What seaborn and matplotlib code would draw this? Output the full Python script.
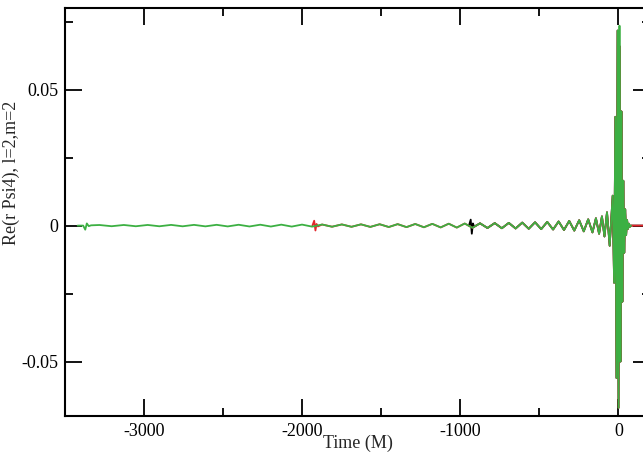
import numpy as np
import pandas as pd
import matplotlib
matplotlib.use("Agg")
import matplotlib.pyplot as plt
from matplotlib.ticker import MultipleLocator, FixedLocator, FuncFormatter
import seaborn as sns

# ---- data (extrema of the common waveform) ----
wave_t = [-3282, -3205, -3128, -3052, -2977, -2903, -2829, -2756, -2684, -2612,
          -2541, -2471, -2402, -2333, -2265, -2198, -2132, -2066, -2001, -1937,
          -1874, -1811, -1749, -1688, -1628, -1569, -1510, -1452, -1396, -1340,
          -1285, -1230, -1177, -1124, -1073, -1022, -972, -923, -875, -828,
          -782, -737, -693, -650, -608, -567, -527, -488, -450, -413,
          -378, -344, -311, -279, -248, -219, -191, -164, -142, -122,
          -104, -88, -72, -55, -36, -27, -19, -12, -5, 1,
          7, 13, 19, 25, 31, 37, 43, 49, 55, 61, 67, 73, 80]
wave_v = [0.00022, -0.00023, 0.00023, -0.00024, 0.00024, -0.00025, 0.00026, -0.00026, 0.00027, -0.00028,
          0.00029, -0.0003, 0.00031, -0.00032, 0.00033, -0.00034, 0.00035, -0.00036, 0.00037, -0.00038,
          0.0004, -0.00041, 0.00043, -0.00044, 0.00046, -0.00048, 0.0005, -0.00052, 0.00054, -0.00056,
          0.00059, -0.00061, 0.00064, -0.00067, 0.0007, -0.00073, 0.00077, -0.0008, 0.00084, -0.00088,
          0.00092, -0.00097, 0.0010, -0.00106, 0.00111, -0.00117, 0.00123, -0.0013, 0.00137, -0.00145,
          0.00153, -0.00162, 0.00172, -0.00184, 0.00197, -0.00212, 0.0023, -0.0025, 0.0027, -0.0030,
          0.0034, -0.0040, 0.0049, -0.0074, 0.011, -0.021, 0.040, -0.056, 0.0717, -0.067,
          0.066, -0.050, 0.042, -0.028, 0.0165, -0.010, 0.006, -0.0035, 0.0021, -0.0012, 0.0007, -0.0004, 0.0]

# junk radiation at the start of each run
green_junk_t = [-3420, -3385, -3372, -3362, -3350, -3335]
green_junk_v = [0.0, 0.0, -0.0015, 0.0008, -0.0002, 0.0001]
red_junk_t = [-1935, -1924, -1916, -1909, -1900]
red_junk_v = [0.0, 0.0018, -0.0018, 0.0006, -0.0003]
black_junk_t = [-945, -934, -927, -920, -912]
black_junk_v = [0.0, 0.0022, -0.0030, 0.0008, -0.0004]

green_peak_t = 7
green_peak_v = 0.0735
tail_t = [200]
tail_v = [0.0]

series_names = ["black", "red", "green"]
series_colors = ["#000000", "#e3262b", "#3cb043"]

# ---- build tables ----
wt = np.array(wave_t, dtype=float)
wv = np.array(wave_v, dtype=float)

def build(name, jt, jv, with_tail):
    start = jt[-1]
    m = wt > start
    t = list(jt) + list(wt[m])
    v = list(jv) + list(wv[m])
    if name == "green":
        v = [green_peak_v if tt == green_peak_t else vv for tt, vv in zip(t, v)]
    if with_tail:
        t += tail_t
        v += tail_v
    return pd.DataFrame({"t": t, "v": v, "run": name})

df = pd.concat([
    build("black", black_junk_t, black_junk_v, True),
    build("red", red_junk_t, red_junk_v, True),
    build("green", green_junk_t, green_junk_v, False),
], ignore_index=True)

# ---- style ----
sns.set_style("ticks")
plt.rcParams["font.family"] = ["Liberation Serif", "DejaVu Serif"]
plt.rcParams["axes.unicode_minus"] = False
FS = 13

fig = plt.figure(figsize=(6.43, 4.53), dpi=100)
ax = fig.add_axes([65 / 643, 1 - 416 / 453, (650 - 65) / 643, (416 - 8) / 453])

sns.lineplot(data=df, x="t", y="v", hue="run", hue_order=series_names,
             palette=dict(zip(series_names, series_colors)), sort=False,
             estimator=None, units="run", linewidth=1.3, legend=False, ax=ax)

ax.set_xlim(-3500, 200)
ax.set_ylim(-0.07, 0.08)

ax.xaxis.set_major_locator(FixedLocator([-3000, -2000, -1000, 0]))
ax.xaxis.set_minor_locator(MultipleLocator(500))
ax.yaxis.set_major_locator(FixedLocator([-0.05, 0.0, 0.05]))
ax.yaxis.set_minor_locator(MultipleLocator(0.025))

def yfmt(v, pos):
    if abs(v) < 1e-12:
        return "0"
    return ("%.2f" % v)
ax.yaxis.set_major_formatter(FuncFormatter(yfmt))
ax.xaxis.set_major_formatter(FuncFormatter(lambda v, p: "%d" % round(v)))

ax.tick_params(which="both", direction="in", top=True, right=True,
               width=1.3, colors="black", labelsize=FS)
ax.tick_params(which="major", length=12, pad=5)
ax.tick_params(which="minor", length=6)
for s in ax.spines.values():
    s.set_linewidth(1.5)
    s.set_color("black")

ax.set_xlabel("Time (M)", fontsize=FS)
ax.xaxis.set_label_coords(0.5, -0.047)
ax.set_ylabel("Re(r Psi4), l=2,m=2", fontsize=FS)
ax.yaxis.set_label_coords(-0.077, 0.595)

fig.savefig("out.png", dpi=100)
